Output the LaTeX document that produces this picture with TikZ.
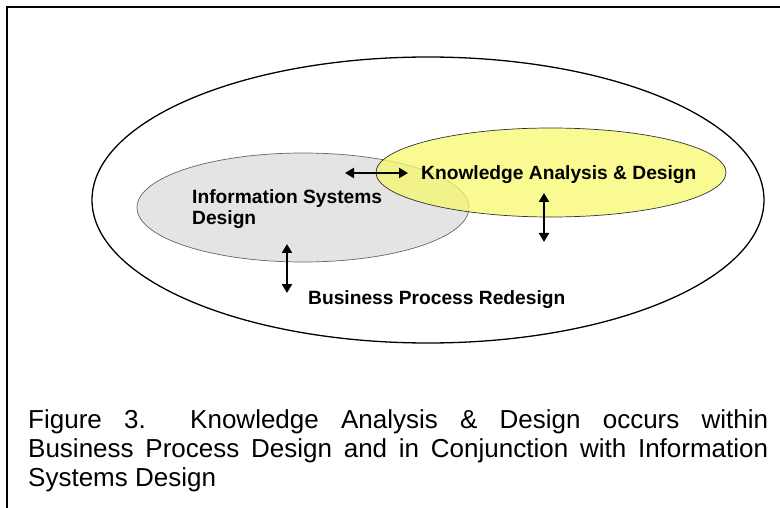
\documentclass[tikz,border=0pt]{standalone}
\usepackage{fontspec}
\setmainfont{Liberation Sans}
\usetikzlibrary{shapes.geometric,arrows.meta}
\definecolor{isgray}{RGB}{228,228,228}
\definecolor{kayellow}{RGB}{248,248,110}
\begin{document}
\begin{tikzpicture}[x=1pt,y=-1pt,
  lbl/.style={font=\fontsize{19.2}{21}\selectfont\bfseries, inner sep=0pt, anchor=base west},
  captext/.style={font=\fontsize{26}{29}\selectfont, inner sep=0pt, anchor=base west},
  dbl/.style={{Triangle[length=9pt,width=10pt]}-{Triangle[length=9pt,width=10pt]}, line width=2.6pt},
  oval/.style={ellipse, inner sep=0pt}]
\useasboundingbox (0,0) rectangle (780,508);
% frame
\draw[line width=1.5pt] (7,515) -- (7,7) -- (790,7);
% ellipses
\node[oval, draw, line width=1.3pt, minimum width=672pt, minimum height=286pt] (bpr) at (428,200) {};
\node[oval, draw=black!60, line width=0.7pt, fill=isgray, minimum width=332pt, minimum height=109pt] (isd) at (303,207.5) {};
\node[oval, draw=black!80, line width=0.7pt, fill=kayellow, fill opacity=0.75, minimum width=350pt, minimum height=89pt] (kad) at (551,172.5) {};
% arrows
\coordinate (h1) at (345,173);
\coordinate (h2) at (408,173);
\coordinate (y1) at (544,193);
\coordinate (y2) at (544,242);
\coordinate (g1) at (287,244);
\coordinate (g2) at (287,293);
\draw[dbl] (h1) -- (h2);
\draw[dbl] (y1) -- (y2);
\draw[dbl] (g1) -- (g2);
% labels
\node[lbl] (tka) at (421,180) {Knowledge Analysis \& Design};
\node[lbl] (tis1) at (192,204) {Information Systems};
\node[lbl] (tis2) at (192,225) {Design};
\node[lbl] (tbpr) at (308,305) {Business Process Redesign};
% caption
\node[captext] (c1) at (28,428) {\makebox[740pt][s]{Figure 3.\ \ Knowledge Analysis \& Design occurs within}};
\node[captext] (c2) at (28,457) {\makebox[740pt][s]{Business Process Design and in Conjunction with Information}};
\node[captext] (c3) at (28,486) {Systems Design};
\end{tikzpicture}
\end{document}
